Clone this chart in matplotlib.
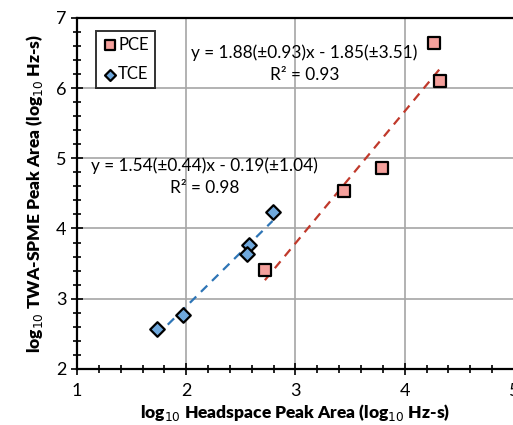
import numpy as np
import matplotlib.pyplot as plt
from matplotlib.ticker import MultipleLocator

plt.rcParams['font.family'] = ['Lato', 'DejaVu Sans']

# data (log10 values)
pce_x = [4.27, 4.32, 3.79, 3.44, 2.72]
pce_y = [6.64, 6.10, 4.86, 4.53, 3.41]
tce_x = [2.79, 2.57, 2.56, 1.97, 1.73]
tce_y = [4.23, 3.76, 3.63, 2.77, 2.57]

# regression lines reported on the chart
pce_slope, pce_icpt = 1.88, -1.85
tce_slope, tce_icpt = 1.54, -0.19

fig = plt.figure(figsize=(5.13, 4.25), dpi=100)
ax = fig.add_axes([0.150, 0.132, 0.852, 0.826])

ax.grid(True, which='major', color='#a6a6a6', linewidth=1.2)
ax.set_axisbelow(True)

xs = np.array([min(pce_x), max(pce_x)])
ax.plot(xs, pce_slope * xs + pce_icpt, linestyle=(0, (4, 3)), color='#c0392b', linewidth=1.6)
xs = np.array([min(tce_x), max(tce_x)])
ax.plot(xs, tce_slope * xs + tce_icpt, linestyle=(0, (4, 3)), color='#2e75b6', linewidth=1.6)

ax.scatter(pce_x, pce_y, marker='s', s=85, facecolor='#f4a09c', edgecolor='black', linewidth=1.6, label='PCE', zorder=3)
ax.scatter(tce_x, tce_y, marker='D', s=55, facecolor='#6fa8dc', edgecolor='black', linewidth=1.6, label='TCE', zorder=3)

ax.set_xlim(1, 5)
ax.set_ylim(2, 7)
ax.xaxis.set_major_locator(MultipleLocator(1))
ax.xaxis.set_minor_locator(MultipleLocator(0.2))
ax.yaxis.set_major_locator(MultipleLocator(1))
ax.yaxis.set_minor_locator(MultipleLocator(0.2))
ax.tick_params(which='both', direction='inout', width=1.2, labelsize=13)
ax.tick_params(which='major', length=8)
ax.tick_params(which='minor', length=6)
ax.tick_params(axis='x', pad=6)
for s in ax.spines.values():
    s.set_linewidth(1.6)

ax.set_xlabel('log$_{10}$ Headspace Peak Area (log$_{10}$ Hz-s)', fontsize=12.5, fontweight='heavy', labelpad=2)
ax.set_ylabel('log$_{10}$ TWA-SPME Peak Area (log$_{10}$ Hz-s)', fontsize=12.5, fontweight='heavy', labelpad=8)

ax.text(3.08, 6.50, 'y = 1.88(±0.93)x - 1.85(±3.51)', ha='center', va='center', fontsize=12.4)
ax.text(3.08, 6.19, 'R² = 0.93', ha='center', va='center', fontsize=12.4)
ax.text(2.17, 4.90, 'y = 1.54(±0.44)x - 0.19(±1.04)', ha='center', va='center', fontsize=12.4)
ax.text(2.17, 4.57, 'R² = 0.98', ha='center', va='center', fontsize=12.4)

leg = ax.legend(loc='upper left', bbox_to_anchor=(0.035, 0.972), fontsize=12, frameon=True,
                fancybox=False, edgecolor='black', handletextpad=0.0, borderpad=0.35,
                labelspacing=0.8, handlelength=1.0, markerscale=0.75, borderaxespad=0.2)
leg.get_frame().set_linewidth(1.4)

fig.savefig('out.png', dpi=100)
